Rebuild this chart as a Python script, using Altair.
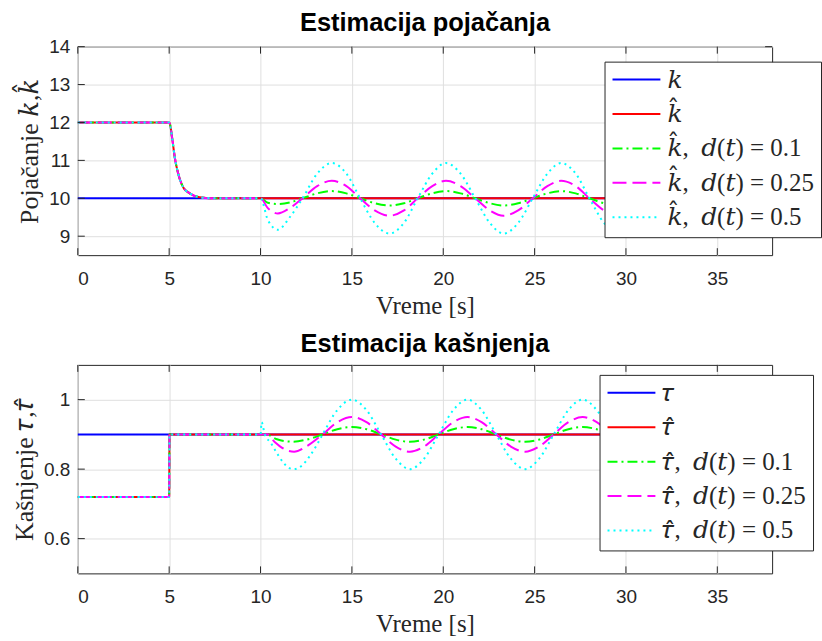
import altair as alt
import pandas as pd

# ---------------- data ----------------
X_TICKS = [0, 5, 10, 15, 20, 25, 30, 35]
K_TICKS = [9, 10, 11, 12, 13, 14]
TAU_TICKS = [0.6, 0.8, 1.0]

K_NAMES = ["𝑘", "𝑘̂", "𝑘̂,\u2002𝑑(𝑡) = 0.1", "𝑘̂,\u2002𝑑(𝑡) = 0.25", "𝑘̂,\u2002𝑑(𝑡) = 0.5"]
TAU_NAMES = ["𝜏", "𝜏̂", "𝜏̂,\u2002𝑑(𝑡) = 0.1", "𝜏̂,\u2002𝑑(𝑡) = 0.25", "𝜏̂,\u2002𝑑(𝑡) = 0.5"]
COLORS = ["#0000ff", "#ff0000", "#00ff00", "#ff00ff", "#00ffff"]
DASHES = [[1, 0], [1, 0], [10, 4, 2, 4], [14, 6], [2, 4]]

# --- gain (Pojačanje) ---
k_true_t = [0, 38]
k_true_v = [10, 10]
k_pre_t = [0, 5, 5.18, 5.3, 5.49, 5.76, 6.13, 6.67, 7.4, 10.0]
k_pre_v = [12, 12, 11.53, 11.1, 10.66, 10.3, 10.13, 10.03, 10.0, 10.0]
k_end_t = [38]
k_end_v = [10]
k_osc_t = [10.4, 10.95, 11.6,
           12.3, 13.1, 13.9, 14.7, 15.45, 16.25, 17.05, 17.85,
           18.6, 19.4, 20.15, 20.95, 21.75, 22.55, 23.3, 24.1,
           24.9, 25.7, 26.45, 27.25, 28.0, 28.8, 29.6, 30.4,
           31.15, 31.95, 32.75, 33.55, 34.3, 35.1, 35.9, 36.7,
           37.45, 38.0]
k_d01 = [9.88, 9.85, 9.89,
         10, 10.13, 10.19, 10.13, 10, 9.87, 9.81, 9.87,
         10, 10.13, 10.19, 10.13, 10, 9.87, 9.81, 9.87,
         10, 10.13, 10.19, 10.13, 10, 9.87, 9.81, 9.87,
         10, 10.13, 10.19, 10.13, 10, 9.87, 9.81, 9.87,
         10, 10.1]
k_d025 = [9.74, 9.6, 9.74,
          10, 10.32, 10.46, 10.32, 10, 9.68, 9.54, 9.68,
          10, 10.32, 10.46, 10.32, 10, 9.68, 9.54, 9.68,
          10, 10.32, 10.46, 10.32, 10, 9.68, 9.54, 9.68,
          10, 10.32, 10.46, 10.32, 10, 9.68, 9.54, 9.68,
          10, 10.25]
k_d05 = [9.43, 9.17, 9.5,
         10, 10.65, 10.93, 10.65, 10, 9.35, 9.07, 9.35,
         10, 10.65, 10.93, 10.65, 10, 9.35, 9.07, 9.35,
         10, 10.65, 10.93, 10.65, 10, 9.35, 9.07, 9.35,
         10, 10.65, 10.93, 10.65, 10, 9.35, 9.07, 9.35,
         10, 10.5]

# --- delay (Kašnjenje) ---
tau_true_t = [0, 38]
tau_true_v = [0.9, 0.9]
tau_pre_t = [0, 5.0, 5.02, 10.0]
tau_pre_v = [0.72, 0.72, 0.9, 0.9]
tau_end_t = [38]
tau_end_v = [0.9]
tau_steady_t = [13.4, 14.2, 15.0, 15.8, 16.6, 17.4, 18.18, 18.95,
                19.75, 20.55, 21.33, 22.1, 22.9, 23.7, 24.48, 25.25,
                26.05, 26.85, 27.63, 28.4, 29.2, 30.0, 30.78, 31.55,
                32.35, 33.15, 33.93, 34.7, 35.5, 36.3, 37.08, 38.0]
tau_d01_start_t = [10.3, 10.9, 11.75, 12.6]
tau_d01_start_v = [0.9, 0.886, 0.879, 0.886]
tau_d01_steady = [0.9, 0.915, 0.921, 0.915, 0.9, 0.885, 0.879, 0.885,
                  0.9, 0.915, 0.921, 0.915, 0.9, 0.885, 0.879, 0.885,
                  0.9, 0.915, 0.921, 0.915, 0.9, 0.885, 0.879, 0.885,
                  0.9, 0.915, 0.921, 0.915, 0.9, 0.885, 0.879, 0.887]
tau_d025_start_t = [10.35, 10.76, 11.4, 11.84, 12.5]
tau_d025_start_v = [0.9, 0.879, 0.855, 0.85, 0.865]
tau_d025_steady = [0.9, 0.935, 0.95, 0.935, 0.9, 0.865, 0.85, 0.865,
                   0.9, 0.935, 0.95, 0.935, 0.9, 0.865, 0.85, 0.865,
                   0.9, 0.935, 0.95, 0.935, 0.9, 0.865, 0.85, 0.865,
                   0.9, 0.935, 0.95, 0.935, 0.9, 0.865, 0.85, 0.87]
tau_d05_start_t = [10.06, 10.22, 10.58, 10.85, 11.2, 11.57, 11.84, 12.3, 12.67, 13.03]
tau_d05_start_v = [0.935, 0.903, 0.874, 0.85, 0.822, 0.803, 0.80, 0.812, 0.836, 0.865]
tau_d05_steady = [0.9, 0.97, 1.0, 0.97, 0.9, 0.83, 0.8, 0.83,
                  0.9, 0.97, 1.0, 0.97, 0.9, 0.83, 0.8, 0.83,
                  0.9, 0.97, 1.0, 0.97, 0.9, 0.83, 0.8, 0.83,
                  0.9, 0.97, 1.0, 0.97, 0.9, 0.83, 0.8, 0.84]

# ---------------- tables ----------------
def rows(name, ts, vs):
    return [{"s": name, "t": t, "v": v, "i": i} for i, (t, v) in enumerate(zip(ts, vs))]

k_rows = (rows(K_NAMES[0], k_true_t, k_true_v)
          + rows(K_NAMES[1], k_pre_t + k_end_t, k_pre_v + k_end_v)
          + rows(K_NAMES[2], k_pre_t + k_osc_t, k_pre_v + k_d01)
          + rows(K_NAMES[3], k_pre_t + k_osc_t, k_pre_v + k_d025)
          + rows(K_NAMES[4], k_pre_t + k_osc_t, k_pre_v + k_d05))
tau_rows = (rows(TAU_NAMES[0], tau_true_t, tau_true_v)
            + rows(TAU_NAMES[1], tau_pre_t + tau_end_t, tau_pre_v + tau_end_v)
            + rows(TAU_NAMES[2], tau_pre_t + tau_d01_start_t + tau_steady_t,
                   tau_pre_v + tau_d01_start_v + tau_d01_steady)
            + rows(TAU_NAMES[3], tau_pre_t + tau_d025_start_t + tau_steady_t,
                   tau_pre_v + tau_d025_start_v + tau_d025_steady)
            + rows(TAU_NAMES[4], tau_pre_t + tau_d05_start_t + tau_steady_t,
                   tau_pre_v + tau_d05_start_v + tau_d05_steady))

k_df = pd.DataFrame(k_rows)
tau_df = pd.DataFrame(tau_rows)

W, H = 696, 209
TICK = 7
AXC = "#262626"
SERIF = "Liberation Serif, DejaVu Serif, serif"


def panel(df, names, yticks, ydom, ytitle, title, lx, ly, fmt, toff):
    leg = alt.Legend(
        title=None, orient="none", legendX=lx, legendY=ly,
        fillColor="white", strokeColor=AXC, padding=7,
        symbolType="stroke", symbolSize=2304, symbolStrokeWidth=2,
        clipHeight=22, rowPadding=9.5, labelOffset=6, labelLimit=500,
        labelFont=SERIF, labelFontSize=25, labelColor=AXC,
    )
    xenc = alt.X("t:Q", scale=alt.Scale(domain=[0, 38], nice=False),
                 axis=alt.Axis(values=X_TICKS, title="Vreme [s]", format="d"))
    yenc = alt.Y("v:Q", scale=alt.Scale(domain=ydom, nice=False, zero=False),
                 axis=alt.Axis(values=yticks, title=ytitle, format=fmt))
    base = alt.Chart(df).mark_line(strokeWidth=2, interpolate="monotone").encode(
        x=xenc, y=yenc,
        color=alt.Color("s:N", scale=alt.Scale(domain=names, range=COLORS), legend=leg),
        strokeDash=alt.StrokeDash("s:N", scale=alt.Scale(domain=names, range=DASHES), legend=leg),
        order="i:Q",
    )
    layers = [base.transform_filter(alt.datum.s == n) for n in names]

    xt = pd.DataFrame({"t": X_TICKS})
    yt = pd.DataFrame({"v": yticks})
    rule = dict(color=AXC, strokeWidth=1)
    layers += [
        alt.Chart(xt).mark_rule(**rule).encode(x="t:Q", y=alt.value(0), y2=alt.value(TICK)),
        alt.Chart(xt).mark_rule(**rule).encode(x="t:Q", y=alt.value(H - TICK), y2=alt.value(H)),
        alt.Chart(yt).mark_rule(**rule).encode(y="v:Q", x=alt.value(0), x2=alt.value(TICK)),
        alt.Chart(yt).mark_rule(**rule).encode(y="v:Q", x=alt.value(W - TICK), x2=alt.value(W)),
    ]
    return alt.layer(*layers).properties(
        width=W, height=H,
        title=alt.TitleParams(title, font="Liberation Sans", fontSize=25.5, fontWeight="bold",
                              color="#000000", offset=toff, frame="group", baseline="alphabetic"),
    )


top = panel(k_df, K_NAMES, K_TICKS, [8.5, 14], "Pojačanje 𝑘,𝑘̂", "Estimacija pojačanja",
            528, 15, "d", -19)
bottom = panel(tau_df, TAU_NAMES, TAU_TICKS, [0.5, 1.1], "Kašnjenje 𝜏,𝜏̂", "Estimacija kašnjenja",
               523, 10, "~g", -13)

chart = (
    alt.vconcat(top, bottom, spacing=12)
    .resolve_scale(x="independent", y="independent", color="independent", strokeDash="independent")
    .resolve_legend(color="independent", strokeDash="independent")
    .configure(padding={"left": 11, "top": 10, "right": 0, "bottom": 0}, background="white")
    .configure_view(stroke=AXC, strokeWidth=1)
    .configure_axis(grid=True, gridColor="#dfdfdf", gridWidth=1, ticks=False, domain=False,
                    labelFont="Liberation Sans", labelFontSize=19, labelColor=AXC,
                    labelPadding=8, titleFont=SERIF, titleFontSize=26,
                    titleFontWeight="normal", titleColor=AXC)
    .configure_axisX(labelPadding=14, titlePadding=5, titleFontSize=25)
    .configure_axisY(titlePadding=6)
)

chart.save("out.html", embed_options={"renderer": "svg", "actions": False})
